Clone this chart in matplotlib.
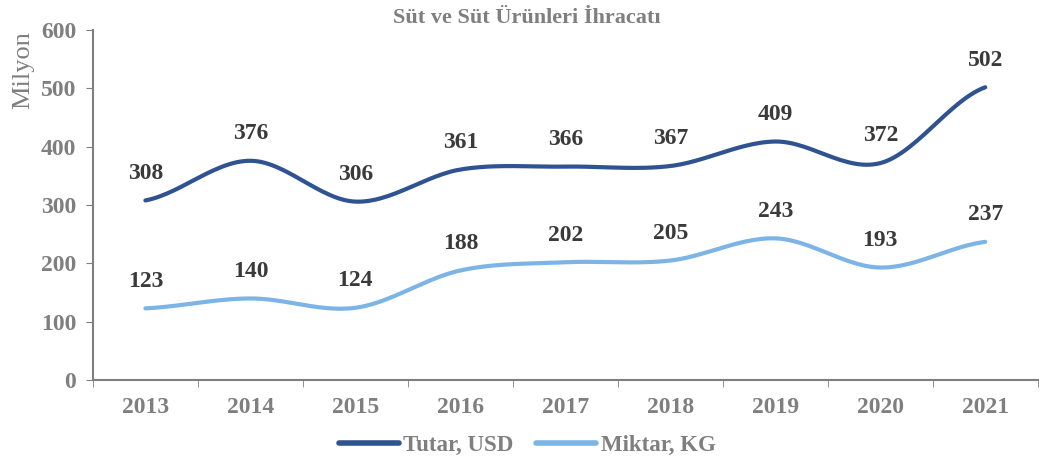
import numpy as np
import matplotlib.pyplot as plt

# Veriler
yillar = ["2013", "2014", "2015", "2016", "2017", "2018", "2019", "2020", "2021"]
tutar_usd = [308, 376, 306, 361, 366, 367, 409, 372, 502]
miktar_kg = [123, 140, 124, 188, 202, 205, 243, 193, 237]

plt.rcParams['font.family'] = ['Liberation Serif', 'DejaVu Serif']


# Excel tarzi yumusak cizgi (Catmull-Rom)
def yumusat(y, n=30):
    y = np.asarray(y, dtype=float)
    x = np.arange(len(y), dtype=float)
    p = np.concatenate([[y[0]], y, [y[-1]]])
    xs, ys = [], []
    for i in range(len(y) - 1):
        t = np.linspace(0, 1, n)
        p0, p1, p2, p3 = p[i], p[i + 1], p[i + 2], p[i + 3]
        yy = 0.5 * ((2 * p1) + (-p0 + p2) * t + (2 * p0 - 5 * p1 + 4 * p2 - p3) * t ** 2
                    + (-p0 + 3 * p1 - 3 * p2 + p3) * t ** 3)
        xs.append(x[i] + t)
        ys.append(yy)
    return np.concatenate(xs), np.concatenate(ys)


fig = plt.figure(figsize=(10.44, 4.63), dpi=100)
ax = fig.add_axes([0.089, 0.179, 0.905, 0.756])

koyu = '#2f5290'
acik = '#7db4e6'
gri = '#7f7f7f'

x = np.arange(len(yillar))
xs, ys = yumusat(tutar_usd)
ax.plot(xs, ys, color=koyu, lw=3, solid_capstyle='round', label='Tutar, USD')
xs, ys = yumusat(miktar_kg)
ax.plot(xs, ys, color=acik, lw=3, solid_capstyle='round', label='Miktar, KG')

for i in range(len(yillar)):
    ax.annotate(str(tutar_usd[i]), (x[i], tutar_usd[i]), xytext=(0, 12), textcoords='offset points',
                ha='center', va='bottom', fontsize=17, fontweight='bold', color='#3a3a3a')
    ax.annotate(str(miktar_kg[i]), (x[i], miktar_kg[i]), xytext=(0, 12), textcoords='offset points',
                ha='center', va='bottom', fontsize=17, fontweight='bold', color='#3a3a3a')

ax.set_xlim(-0.5, len(yillar) - 0.5)
ax.set_ylim(0, 600)
ax.set_yticks(range(0, 601, 100))
ax.set_xticks(x)
ax.set_xticklabels(yillar)
ax.set_xticks(np.arange(-0.5, len(yillar), 1), minor=True)
ax.tick_params(axis='x', which='major', length=0, pad=12)
ax.tick_params(axis='x', which='minor', length=5, color=gri, direction='out')
ax.tick_params(axis='y', length=5, color=gri, pad=7)
for lab in ax.get_xticklabels() + ax.get_yticklabels():
    lab.set_fontsize(17)
    lab.set_fontweight('bold')
    lab.set_color(gri)

ax.spines['top'].set_visible(False)
ax.spines['right'].set_visible(False)
ax.spines['left'].set_color(gri)
ax.spines['bottom'].set_color(gri)
ax.spines['left'].set_linewidth(1.5)
ax.spines['bottom'].set_linewidth(1.5)

ax.set_ylabel('Milyon', fontsize=19, color=gri)
ax.yaxis.set_label_coords(-0.062, 0.885)

fig.text(0.505, 0.962, 'Süt ve Süt Ürünleri İhracatı', ha='center', va='center',
         fontsize=16, fontweight='bold', color=gri)

leg = fig.legend(loc='center', bbox_to_anchor=(0.505, 0.038), ncol=2, frameon=False,
                 handlelength=2.6, columnspacing=1.0, handletextpad=0.2,
                 prop={'size': 16.5, 'weight': 'bold'})
for t in leg.get_texts():
    t.set_color(gri)
for h in leg.legend_handles:
    h.set_linewidth(4)

fig.savefig('out.png', dpi=100)
